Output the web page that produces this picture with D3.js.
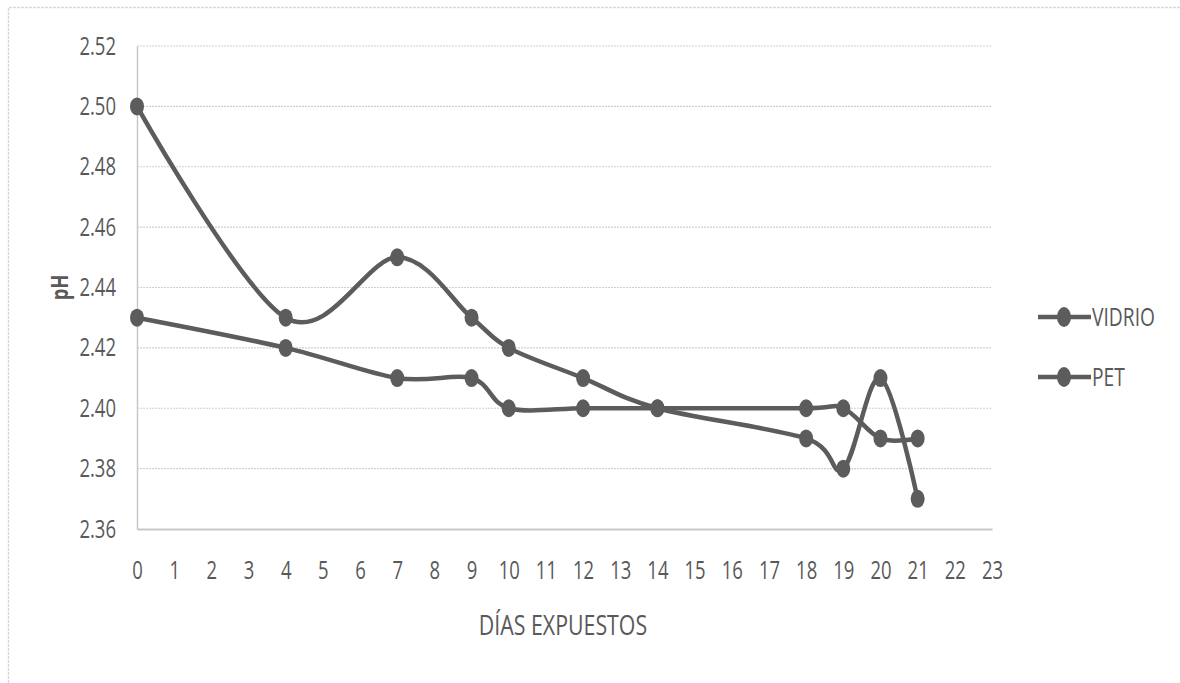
<!DOCTYPE html>
<html>
<head>
<meta charset="utf-8">
<script src="https://cdn.jsdelivr.net/npm/d3@7"></script>
<style>
  html, body { margin: 0; padding: 0; background: #fff; }
  svg { display: block; }
  text { font-family: "Open Sans", "Noto Sans", sans-serif; fill: #595959; }
</style>
</head>
<body>
<svg id="chart" width="1180" height="683"></svg>
<script>
// Days of exposure and measured pH for each container type
const days = [0, 4, 7, 9, 10, 12, 14, 18, 19, 20, 21];
const vidrio = [2.50, 2.43, 2.45, 2.43, 2.42, 2.41, 2.40, 2.39, 2.38, 2.41, 2.37];
const pet = [2.43, 2.42, 2.41, 2.41, 2.40, 2.40, 2.40, 2.40, 2.40, 2.39, 2.39];
const seriesNames = ["VIDRIO", "PET"];
const xTicks = d3.range(0, 24);
const yTicks = [2.36, 2.38, 2.40, 2.42, 2.44, 2.46, 2.48, 2.50, 2.52];

const svg = d3.select("#chart");
const color = "#5c5c5c";
const squeeze = 0.74; // horizontal compression giving a condensed typeface look

// outer chart frame
svg.append("path")
  .attr("d", "M8.5,683 V7.5 H1180")
  .attr("fill", "none")
  .attr("stroke", "#d9d9d9")
  .attr("stroke-width", 1.5)
  .attr("stroke-dasharray", "3,1");

const x = d3.scaleLinear().domain([0, 23]).range([137, 992]);
const y = d3.scaleLinear().domain([2.36, 2.52]).range([529, 46]);

// horizontal gridlines
svg.append("g")
  .selectAll("line")
  .data(yTicks.filter(t => t > 2.36))
  .join("line")
  .attr("x1", x(0)).attr("x2", x(23))
  .attr("y1", d => y(d)).attr("y2", d => y(d))
  .attr("stroke", "#cfcfcf")
  .attr("stroke-width", 1.2)
  .attr("stroke-dasharray", "2,1");

// axes
const yPad = 21;
const yAxis = d3.axisLeft(y).tickValues(yTicks).tickFormat(d3.format(".2f")).tickSize(0).tickPadding(yPad);
const gy = svg.append("g").attr("transform", `translate(${x(0)},0)`).call(yAxis);
gy.select(".domain").attr("stroke", "#c8c8c8").attr("stroke-width", 1.5);
gy.selectAll("text")
  .attr("font-size", 25)
  .attr("font-family", "Open Sans")
  .attr("fill", "#595959")
  .attr("x", -yPad / squeeze)
  .attr("transform", `scale(${squeeze},1)`);

const xAxis = d3.axisBottom(x).tickValues(xTicks).tickFormat(d3.format("d")).tickSize(0).tickPadding(32);
const gx = svg.append("g").attr("transform", `translate(0,${y(2.36)})`).call(xAxis);
gx.select(".domain").attr("stroke", "#c8c8c8").attr("stroke-width", 2);
gx.selectAll("text")
  .attr("font-size", 25)
  .attr("font-family", "Open Sans")
  .attr("fill", "#595959")
  .attr("transform", `scale(${squeeze},1)`);

// axis titles
svg.append("text")
  .attr("transform", `translate(68,${(y(2.36) + y(2.52)) / 2}) rotate(-90) scale(0.8,1)`)
  .attr("text-anchor", "middle")
  .attr("font-size", 23)
  .attr("font-weight", "bold")
  .text("pH");

svg.append("text")
  .attr("transform", `translate(563,635) scale(0.79,1)`)
  .attr("text-anchor", "middle")
  .attr("font-size", 27)
  .text("DÍAS EXPUESTOS");

// smoothed lines with markers
const line = d3.line()
  .x(d => x(d[0]))
  .y(d => y(d[1]))
  .curve(d3.curveCardinal.tension(0));

[vidrio, pet].forEach(vals => {
  const pts = days.map((d, i) => [d, vals[i]]);
  svg.append("path")
    .datum(pts)
    .attr("d", line)
    .attr("fill", "none")
    .attr("stroke", color)
    .attr("stroke-width", 4.5);
  svg.append("g")
    .selectAll("ellipse")
    .data(pts)
    .join("ellipse")
    .attr("cx", d => x(d[0]))
    .attr("cy", d => y(d[1]))
    .attr("rx", 7).attr("ry", 9)
    .attr("fill", color);
});

// legend
const legendY = [317, 377];
const lg = svg.append("g")
  .selectAll("g")
  .data(seriesNames)
  .join("g")
  .attr("transform", (d, i) => `translate(0,${legendY[i]})`);
lg.append("line")
  .attr("x1", 1038).attr("x2", 1091)
  .attr("stroke", color).attr("stroke-width", 4.5);
lg.append("ellipse")
  .attr("cx", 1064).attr("cy", 0)
  .attr("rx", 7).attr("ry", 10)
  .attr("fill", color);
lg.append("text")
  .attr("transform", `translate(1092,0) scale(0.74,1)`)
  .attr("dy", "0.36em")
  .attr("font-size", 26)
  .text(d => d);
</script>
</body>
</html>
